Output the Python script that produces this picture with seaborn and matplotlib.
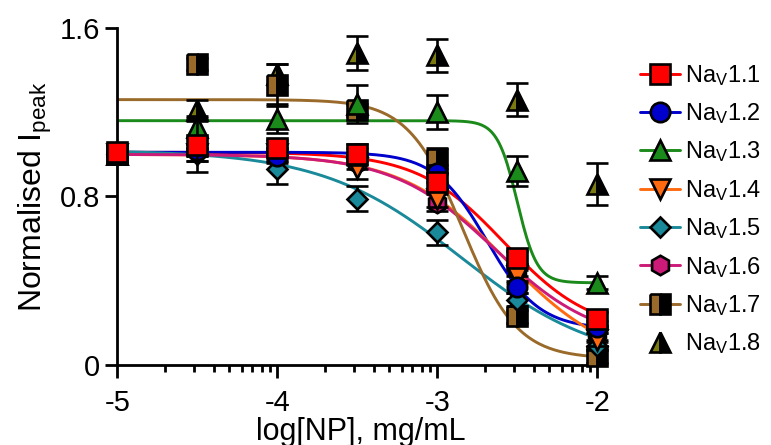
import numpy as np
import pandas as pd
import matplotlib
matplotlib.use("Agg")
import matplotlib.pyplot as plt
from matplotlib.lines import Line2D
import seaborn as sns

sns.set_style("ticks")
plt.rcParams["font.family"] = ["Liberation Sans", "DejaVu Sans"]
plt.rcParams["mathtext.default"] = "regular"
plt.rcParams["text.color"] = "black"
plt.rcParams["axes.labelcolor"] = "black"
plt.rcParams["xtick.color"] = "black"
plt.rcParams["ytick.color"] = "black"

# === Data ===
channels = ["Nav1.1", "Nav1.2", "Nav1.3", "Nav1.4", "Nav1.5", "Nav1.6", "Nav1.7", "Nav1.8"]
log_conc = [-5, -4.5, -4, -3.5, -3, -2.5, -2]

nav11 = [1.01, 1.045, 1.03, 1.00, 0.87, 0.51, 0.22]
nav12 = [1.00, 1.02, 0.99, 1.00, 0.91, 0.37, 0.18]
nav13 = [1.00, 1.13, 1.17, 1.24, 1.20, 0.92, 0.39]
nav14 = [1.00, 1.00, 1.00, 0.935, 0.79, 0.42, 0.12]
nav15 = [1.00, 1.00, 0.93, 0.79, 0.63, 0.31, 0.09]
nav16 = [1.00, 1.02, 1.00, 0.96, 0.77, 0.45, 0.15]
nav17 = [1.00, 1.43, 1.33, 1.21, 0.98, 0.23, 0.04]
nav18 = [1.00, 1.21, 1.38, 1.48, 1.47, 1.26, 0.86]

err11 = [0, 0.13, 0.04, 0.05, 0.04, 0.03, 0.03]
err12 = [0, 0.03, 0.03, 0.03, 0.04, 0.03, 0.03]
err13 = [0, 0.05, 0.07, 0.09, 0.08, 0.07, 0.03]
err14 = [0, 0.03, 0.03, 0.05, 0.04, 0.03, 0.03]
err15 = [0, 0.03, 0.07, 0.06, 0.06, 0.03, 0.02]
err16 = [0, 0.03, 0.03, 0.03, 0.04, 0.03, 0.03]
err17 = [0, 0.03, 0.10, 0.03, 0.05, 0.03, 0.03]
err18 = [0, 0.05, 0.05, 0.08, 0.08, 0.08, 0.10]

# fitted dose-response parameters (Nav1.8 not fitted)
fit_top = [1.01, 1.01, 1.16, 1.00, 1.02, 1.00, 1.26, None]
fit_bottom = [0.15, 0.17, 0.39, 0.00, 0.00, 0.10, 0.03, None]
fit_logic50 = [-2.58, -2.69, -2.50, -2.57, -2.85, -2.64, -2.84, None]
fit_hill = [1.6, 2.65, 7.0, 1.33, 1.0, 1.37, 2.55, None]

means = [nav11, nav12, nav13, nav14, nav15, nav16, nav17, nav18]
errs = [err11, err12, err13, err14, err15, err16, err17, err18]

colors = ["#ff0000", "#0000cc", "#1a8a1a", "#ff6a10", "#1a8a9a", "#cc1a78", "#9a6a2a", "#7a7a10"]
markers = ["s", "o", "^", "v", "D", "h", "s", "^"]
msizes = [14, 14, 14, 14, 10.5, 14, 14, 14]

# fitted curves
xs = np.linspace(-5, -2, 300)
rows = []
for name, t, b, c, h in zip(channels, fit_top, fit_bottom, fit_logic50, fit_hill):
    if t is None:
        continue
    ys = b + (t - b) / (1 + 10 ** (h * (xs - c)))
    rows.append(pd.DataFrame({"x": xs, "y": ys, "channel": name}))
curves = pd.concat(rows)

fig = plt.figure(figsize=(7.71, 4.45), dpi=100)
ax = fig.add_axes([0.152, 0.18, 0.633, 0.757])

pal = {ch: col for ch, col in zip(channels, colors)}
sns.lineplot(data=curves, x="x", y="y", hue="channel", palette=pal,
             linewidth=2.1, legend=False, ax=ax, zorder=2)

n = len(channels)
for i in reversed(range(n)):
    kw = dict(marker=markers[i], markersize=msizes[i], markerfacecolor=colors[i],
              markeredgecolor="black", markeredgewidth=1.9)
    if i >= 6:
        kw.update(fillstyle="left", markerfacecoloralt="black")
    ax.errorbar(log_conc, means[i], yerr=errs[i], fmt="none", ecolor="black",
                elinewidth=1.9, capsize=8, capthick=1.9, zorder=3 + 2 * (n - i), clip_on=False)
    ax.plot(log_conc, means[i], linestyle="none", zorder=4 + 2 * (n - i), clip_on=False, **kw)

handles = []
for i in range(n):
    kw = dict(marker=markers[i], markersize=msizes[i], markerfacecolor=colors[i],
              markeredgecolor="black", markeredgewidth=1.9)
    if i >= 6:
        kw.update(fillstyle="left", markerfacecoloralt="black")
    ls = "none" if fit_top[i] is None else "-"
    handles.append(Line2D([], [], color=colors[i], linestyle=ls, linewidth=2.1, **kw))

leg_labels = ["Na$_{V}$" + ch[3:] for ch in channels]
fig.legend(handles, leg_labels, loc="upper left", bbox_to_anchor=(0.818, 0.88),
           frameon=False, fontsize=17, handlelength=1.7, handletextpad=0.2,
           labelspacing=0.57, borderaxespad=0)

ax.set_xlim(-5, -1.95)
ax.set_ylim(0, 1.6)
ax.set_xticks([-5, -4, -3, -2])
ax.set_xticklabels(["-5", "-4", "-3", "-2"])
minor = [d + np.log10(k) for d in [-5, -4, -3] for k in range(2, 10)]
ax.set_xticks(minor, minor=True)
ax.set_yticks([0, 0.8, 1.6])
ax.set_yticklabels(["0", "0.8", "1.6"])
ax.tick_params(axis="both", which="major", labelsize=21, width=2, length=9, direction="out")
ax.tick_params(axis="x", which="major", pad=8)
ax.tick_params(axis="x", which="minor", width=2, length=5, direction="out")
sns.despine(ax=ax)
for sp in ["left", "bottom"]:
    ax.spines[sp].set_linewidth(2)
    ax.spines[sp].set_color("black")

ax.set_xlabel("log[NP], mg/mL", fontsize=22, labelpad=0)
ax.set_ylabel("Normalised I$_{peak}$", fontsize=23, labelpad=4)

fig.savefig("out.png", dpi=100)
